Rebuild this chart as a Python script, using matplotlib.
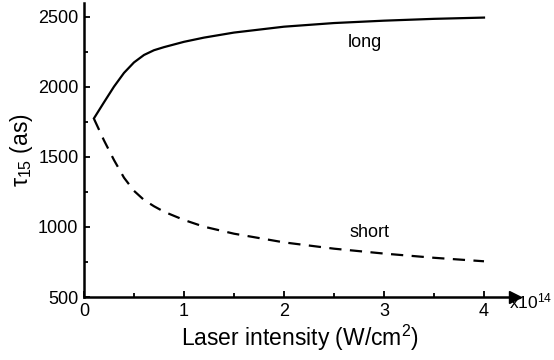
import numpy as np
import matplotlib
matplotlib.use("Agg")
import matplotlib.pyplot as plt
from matplotlib.ticker import MultipleLocator

plt.rcParams['font.family'] = ['Liberation Sans', 'DejaVu Sans']
plt.rcParams['mathtext.fontset'] = 'custom'
plt.rcParams['mathtext.rm'] = 'Liberation Sans'
plt.rcParams['mathtext.it'] = 'Liberation Sans'

# laser intensity in units of 1e14 W/cm^2
intensity = [0.1, 0.2, 0.3, 0.4, 0.5, 0.6, 0.7, 0.8, 1.0, 1.2, 1.5, 2.0, 2.5, 3.0, 3.5, 4.0]
tau_long = [1776, 1890, 2002, 2100, 2175, 2228, 2262, 2284, 2322, 2352, 2388, 2430, 2456, 2473, 2486, 2495]
tau_short = [1772, 1618, 1478, 1352, 1258, 1193, 1148, 1109, 1050, 1002, 952, 890, 845, 810, 780, 755]

fig = plt.figure(figsize=(5.54, 3.6), dpi=100)
ax = fig.add_axes([0.1516, 0.175, 0.778, 0.817])

ax.plot(intensity, tau_long, color='black', lw=1.6)
ax.plot(intensity, tau_short, color='black', lw=1.6, ls=(0, (5.5, 3.8)))

ax.text(2.81, 2314, 'long', fontsize=13, ha='center', va='center')
ax.text(2.86, 957, 'short', fontsize=13, ha='center', va='center')

ax.set_xlim(0, 4.31)
ax.set_ylim(500, 2600)
ax.xaxis.set_major_locator(MultipleLocator(1))
ax.xaxis.set_minor_locator(MultipleLocator(0.5))
ax.yaxis.set_major_locator(MultipleLocator(500))
ax.yaxis.set_minor_locator(MultipleLocator(250))
ax.set_xticks([0, 1, 2, 3, 4])
ax.tick_params(which='both', direction='in', width=1.3, labelsize=13)
ax.tick_params(which='major', length=4, pad=4)
ax.tick_params(which='minor', length=3)

for side in ['top', 'right']:
    ax.spines[side].set_visible(False)
for side in ['left', 'bottom']:
    ax.spines[side].set_linewidth(1.8)

# arrow head at the end of the x axis
ax.plot(1, 0, marker='>', color='black', markersize=8, transform=ax.transAxes,
        clip_on=False)
fig.text(0.9964, 0.142, r'x10$^{14}$', fontsize=12.5, ha='right', va='baseline')

ax.set_xlabel(r'Laser intensity (W/cm$^2$)', fontsize=16.5, labelpad=2)
ax.set_ylabel(r'$\tau_{15}$ (as)', fontsize=16.5, labelpad=2)

fig.savefig('out.png', dpi=100)
